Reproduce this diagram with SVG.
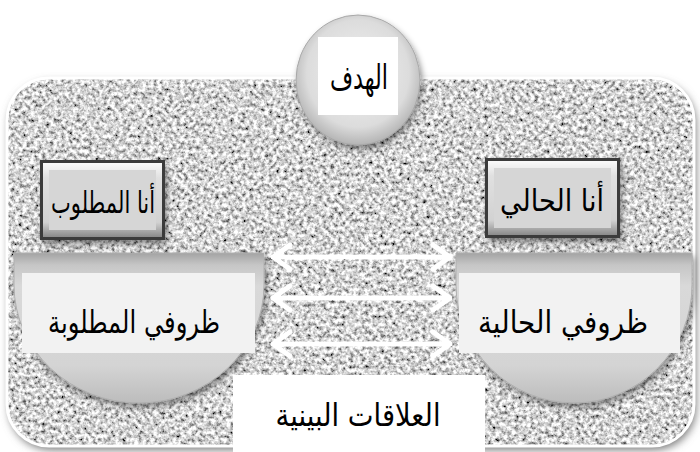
<svg xmlns="http://www.w3.org/2000/svg" width="700" height="452" viewBox="0 0 700 452">
<defs>
<style>
.lbl{font-family:"DejaVu Sans","Noto Sans",sans-serif;fill:#000;text-anchor:middle;direction:rtl}
.arrow{stroke:#fff;stroke-width:5;fill:none;stroke-linecap:round;stroke-linejoin:round}
</style>
<filter id="granite" x="0" y="0" width="100%" height="100%">
<feTurbulence type="fractalNoise" baseFrequency="0.26" numOctaves="3" seed="7" result="n"/>
<feColorMatrix in="n" type="matrix" values="1.9 0 0 0 -0.3  1.9 0 0 0 -0.3  1.9 0 0 0 -0.3  0 0 0 0 1" result="g"/>
<feComposite in="g" in2="SourceGraphic" operator="in"/>
</filter>
<filter id="shadow" x="-20%" y="-20%" width="140%" height="150%">
<feDropShadow dx="2" dy="4" stdDeviation="3" flood-color="#000" flood-opacity="0.45"/>
</filter>
<filter id="bgshadow" x="-5%" y="-5%" width="110%" height="115%">
<feGaussianBlur stdDeviation="4"/>
</filter>
<radialGradient id="circG" cx="50%" cy="45%" r="55%">
<stop offset="0" stop-color="#f2f2f2"/>
<stop offset="0.75" stop-color="#dcdcdc"/>
<stop offset="1" stop-color="#b4b4b4"/>
</radialGradient>
<linearGradient id="bowlG" x1="0" y1="0" x2="0" y2="1">
<stop offset="0" stop-color="#a3a3a3"/>
<stop offset="0.08" stop-color="#c6c6c6"/>
<stop offset="0.22" stop-color="#d9d9d9"/>
<stop offset="0.75" stop-color="#d4d4d4"/>
<stop offset="1" stop-color="#bcbcbc"/>
</linearGradient>
<linearGradient id="bevelG" x1="0" y1="0" x2="0" y2="1">
<stop offset="0" stop-color="#fafafa"/>
<stop offset="0.2" stop-color="#e0e0e0"/>
<stop offset="0.8" stop-color="#d2d2d2"/>
<stop offset="1" stop-color="#8a8a8a"/>
</linearGradient>
</defs>
<rect width="700" height="452" fill="#fff"/>
<g id="background">
<rect x="9" y="82" width="687" height="368" rx="42" fill="#7a7a7a" filter="url(#bgshadow)"/>
<rect x="7" y="78" width="687" height="368" rx="42" fill="#000" filter="url(#granite)"/>
<rect x="7" y="78" width="687" height="368" rx="42" fill="none" stroke="#fff" stroke-width="3"/>
</g>
<g id="goal">
<ellipse cx="358" cy="80" rx="62" ry="65" fill="url(#circG)" stroke="#a8a8a8" stroke-width="1" filter="url(#shadow)"/>
<rect x="318" y="37" width="80" height="78" fill="#fff"/>
<text class="lbl" x="359" y="89" font-size="34" textLength="58" lengthAdjust="spacingAndGlyphs">الهدف</text>
</g>
<g id="me-required">
<g filter="url(#shadow)">
<rect x="40" y="160" width="125" height="80" fill="#3a3a3a"/>
<rect x="43" y="163" width="119" height="74" fill="url(#bevelG)"/>
<rect x="49" y="170" width="107" height="60" fill="#d6d6d6"/>
</g>
<text class="lbl" x="103" y="213" font-size="30" textLength="104" lengthAdjust="spacingAndGlyphs">أنا المطلوب</text>
</g>
<g id="me-current">
<g filter="url(#shadow)">
<rect x="485" y="158" width="135" height="80" fill="#3a3a3a"/>
<rect x="488" y="161" width="129" height="74" fill="url(#bevelG)"/>
<rect x="494" y="168" width="117" height="60" fill="#d6d6d6"/>
</g>
<text class="lbl" x="552" y="211" font-size="30" textLength="104" lengthAdjust="spacingAndGlyphs">أنا الحالي</text>
</g>
<g id="conditions-required">
<path d="M14,253 H264 V285 A125,118 0 0 1 14,285 Z" fill="url(#bowlG)" stroke="#b0b0b0" stroke-width="1" filter="url(#shadow)"/>
<rect x="22" y="273" width="233" height="80" fill="#f2f2f2"/>
<text class="lbl" x="134" y="333" font-size="31" textLength="172" lengthAdjust="spacingAndGlyphs">ظروفي المطلوبة</text>
</g>
<g id="conditions-current">
<path d="M456,253 H692 V285 A118,118 0 0 1 456,285 Z" fill="url(#bowlG)" stroke="#b0b0b0" stroke-width="1" filter="url(#shadow)"/>
<rect x="459" y="273" width="221" height="80" fill="#f2f2f2"/>
<text class="lbl" x="563" y="333" font-size="31" textLength="170" lengthAdjust="spacingAndGlyphs">ظروفي الحالية</text>
</g>
<g id="connectors">
<g class="arrow">
<path d="M273,257 H450 M290,245 L273,257 L290,269 M433,245 L450,257 L433,269"/>
<path d="M273,298 H450 M290,286 L273,298 L290,310 M433,286 L450,298 L433,310"/>
<path d="M273,344 H450 M290,332 L273,344 L290,356 M433,332 L450,344 L433,356"/>
</g>
</g>
<g id="relations">
<rect x="233" y="375" width="252" height="77" fill="#fff"/>
<text class="lbl" x="358" y="426" font-size="31" textLength="165" lengthAdjust="spacingAndGlyphs">العلاقات البينية</text>
</g>
</svg>
